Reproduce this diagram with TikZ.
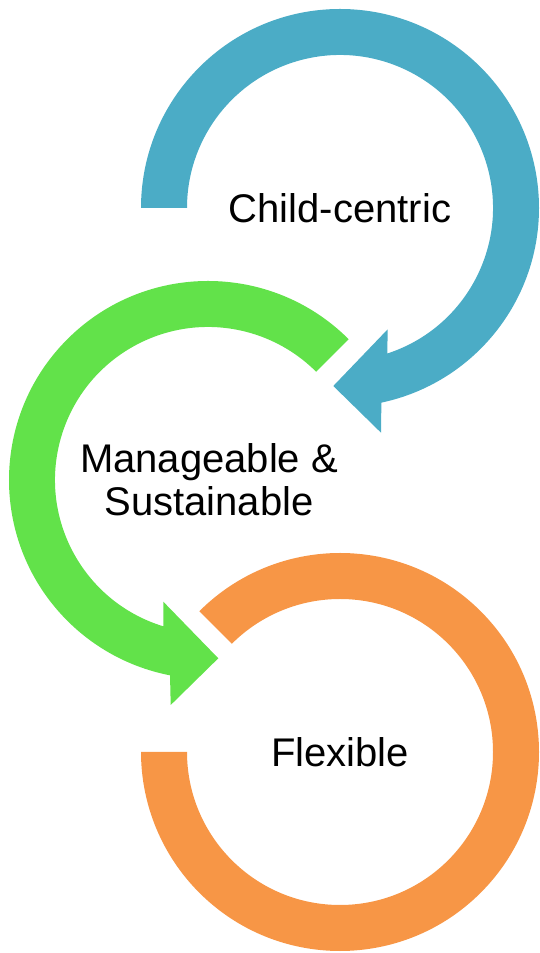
\documentclass[tikz,border=0pt]{standalone}
\usepackage{fontspec}
\setmainfont{Liberation Sans}
\usetikzlibrary{calc}
\definecolor{cblue}{HTML}{4BACC6}
\definecolor{cgreen}{HTML}{62E24A}
\definecolor{corange}{HTML}{F79646}
\begin{document}
\begin{tikzpicture}[x=1pt,y=1pt,
  lbl/.style={font=\fontsize{40}{42.7}\selectfont, align=center, inner sep=0pt, text=black}]
\useasboundingbox (0,0) rectangle (540,953);
\coordinate (cb) at (340,745);
\coordinate (cg) at (208,473);
\coordinate (co) at (340,201);
% blue circular arrow
\fill[cblue] ($(cb)+(180:199pt)$) arc[start angle=180,end angle=-78,radius=199pt]
  -- (381,520.3) -- (333.3,567) -- (387.7,623.7)
  -- ($(cb)+(-72:153pt)$) arc[start angle=-72,end angle=180,radius=153pt] -- cycle;
% green circular arrow
\fill[cgreen] ($(cg)+(45:199pt)$) arc[start angle=45,end angle=259,radius=199pt]
  -- (170.7,248) -- (218.3,294.7) -- (163.3,351.3)
  -- ($(cg)+(253:153pt)$) arc[start angle=253,end angle=45,radius=153pt] -- cycle;
% orange arc
\fill[corange] ($(co)+(135:199pt)$) arc[start angle=135,end angle=-180,radius=199pt]
  -- ($(co)+(180:153pt)$) arc[start angle=-180,end angle=135,radius=153pt] -- cycle;
\node[lbl] (t1) at (cb) {Child-centric};
\node[lbl] (t2) at ([xshift=1pt]cg) {Manageable \&\\Sustainable};
\node[lbl] (t3) at (co) {Flexible};
\end{tikzpicture}
\end{document}
